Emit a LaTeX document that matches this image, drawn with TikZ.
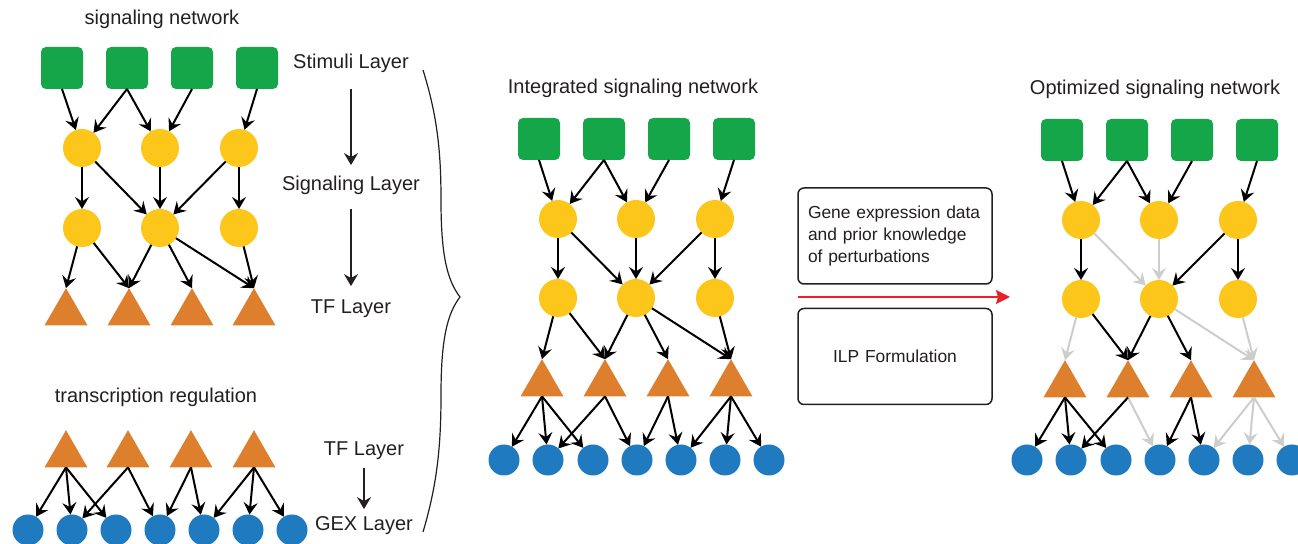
\documentclass[tikz,border=0pt]{standalone}
\usepackage{fontspec}
\setmainfont{Liberation Sans}
\usetikzlibrary{arrows.meta,shapes.geometric}
\definecolor{stimgreen}{RGB}{22,166,74}
\definecolor{siggold}{RGB}{253,198,26}
\definecolor{tforange}{RGB}{221,127,44}
\definecolor{gexblue}{RGB}{31,122,192}
\definecolor{offgray}{RGB}{205,205,205}
\definecolor{inkgray}{RGB}{35,31,32}
\definecolor{fitred}{RGB}{232,32,40}
\begin{document}
\begin{tikzpicture}[x=0.5pt, y=-0.5pt,
    stim/.style={rectangle, rounded corners=2.5pt, fill=stimgreen, minimum size=21pt, inner sep=0pt, outer sep=0pt},
    sig/.style={circle, fill=siggold, minimum size=19pt, inner sep=0pt, outer sep=0pt},
    tf/.style={regular polygon, regular polygon sides=3, fill=tforange, minimum size=24.8pt, inner sep=0pt, outer sep=0pt},
    gex/.style={circle, fill=gexblue, minimum size=15.5pt, inner sep=0pt, outer sep=0pt},
    edge/.style={-{Stealth[length=6pt, width=7pt, inset=2.2pt]}, line width=1pt, black},
    offedge/.style={edge, offgray},
    lbl/.style={font=\fontsize{10}{12}\selectfont, text=inkgray, inner sep=0pt, text height=7.5pt, text depth=2pt},
    layerarrow/.style={-{Stealth[length=6pt, width=7pt, inset=2pt]}, line width=0.6pt, inkgray},
    boxnote/.style={draw=inkgray, line width=0.75pt, rounded corners=3pt, minimum width=97pt, minimum height=48pt, inner xsep=5pt, text width=87pt, font=\fontsize{8.7}{10.8}\selectfont, text=inkgray},
    fitarrow/.style={-{Stealth[length=7pt, width=7pt, inset=1pt]}, line width=0.7pt, fitred}]
        \useasboundingbox (0, 0) rectangle (1298, 544);

        % signaling network
        \node[lbl] (signet) at (162, 19) {signaling network};
        \node[stim] (sg1) at (62, 68) {};
        \node[stim] (sg2) at (127, 68) {};
        \node[stim] (sg3) at (192, 68) {};
        \node[stim] (sg4) at (257, 68) {};
        \node[sig] (sy1) at (82, 148) {};
        \node[sig] (sy2) at (160, 148) {};
        \node[sig] (sy3) at (239, 148) {};
        \node[sig] (sy4) at (82, 228) {};
        \node[sig] (sy5) at (160, 228) {};
        \node[sig] (sy6) at (239, 228) {};
        \node[tf] (st1) at (66, 313) {};
        \node[tf] (st2) at (129, 313) {};
        \node[tf] (st3) at (192, 313) {};
        \node[tf] (st4) at (254, 313) {};
        \draw[edge] (sg1.south) -- (sy1);
        \draw[edge] (sg2.south) -- (sy1);
        \draw[edge] (sg2.south) -- (sy2);
        \draw[edge] (sg3.south) -- (sy2);
        \draw[edge] (sg4.south) -- (sy3);
        \draw[edge] (sy1) -- (sy4);
        \draw[edge] (sy1) -- (sy5);
        \draw[edge] (sy2) -- (sy5);
        \draw[edge] (sy3) -- (sy5);
        \draw[edge] (sy3) -- (sy6);
        \draw[edge] (sy4) -- (st1.corner 1);
        \draw[edge] (sy4) -- (st2.corner 1);
        \draw[edge] (sy5) -- (st2.corner 1);
        \draw[edge] (sy5) -- (st3.corner 1);
        \draw[edge] (sy5) -- (st4.corner 1);
        \draw[edge] (sy6) -- (st4.corner 1);

        % layers
        \node[lbl] (stimlayer) at (351, 63) {Stimuli Layer};
        \node[lbl] (siglayer) at (351, 185) {Signaling Layer};
        \node[lbl] (tflayer) at (351, 308) {TF Layer};
        \node[lbl] (tflayerb) at (364, 450) {TF Layer};
        \node[lbl] (gexlayer) at (364, 525) {GEX Layer};
        \draw[layerarrow, shorten <=8pt, shorten >=5pt] (stimlayer) -- (siglayer);
        \draw[layerarrow, shorten <=7pt, shorten >=6pt] (siglayer) -- (tflayer);
        \draw[layerarrow, shorten <=4pt, shorten >=3pt] (tflayerb) -- (gexlayer);
        \draw[line width=0.6pt, inkgray] (423, 70) .. controls (437, 115) and (441, 150) .. (441, 200)
            .. controls (441, 255) and (447, 280) .. (460, 297)
            .. controls (447, 314) and (441, 340) .. (441, 395)
            .. controls (441, 447) and (437, 485) .. (423, 532);

        % transcription regulation
        \node[lbl] (treg) at (156, 397) {transcription regulation};
        \node[tf] (tt1) at (66, 455) {};
        \node[tf] (tt2) at (128, 455) {};
        \node[tf] (tt3) at (191, 455) {};
        \node[tf] (tt4) at (254, 455) {};
        \node[gex] (tb1) at (28, 530) {};
        \node[gex] (tb2) at (72, 530) {};
        \node[gex] (tb3) at (116, 530) {};
        \node[gex] (tb4) at (160, 530) {};
        \node[gex] (tb5) at (204, 530) {};
        \node[gex] (tb6) at (248, 530) {};
        \node[gex] (tb7) at (292, 530) {};
        \draw[edge] (tt1.south) -- (tb1);
        \draw[edge] (tt1.south) -- (tb2);
        \draw[edge] (tt1.south) -- (tb3);
        \draw[edge] (tt2.south) -- (tb2);
        \draw[edge] (tt2.south) -- (tb4);
        \draw[edge] (tt3.south) -- (tb4);
        \draw[edge] (tt3.south) -- (tb5);
        \draw[edge] (tt4.south) -- (tb5);
        \draw[edge] (tt4.south) -- (tb6);
        \draw[edge] (tt4.south) -- (tb7);

        % integrated signaling network
        \node[lbl] (intnet) at (633, 88) {Integrated signaling network};
        \node[stim] (ig1) at (539, 139) {};
        \node[stim] (ig2) at (604, 139) {};
        \node[stim] (ig3) at (669, 139) {};
        \node[stim] (ig4) at (734, 139) {};
        \node[sig] (iy1) at (558, 219) {};
        \node[sig] (iy2) at (636, 219) {};
        \node[sig] (iy3) at (715, 219) {};
        \node[sig] (iy4) at (558, 298) {};
        \node[sig] (iy5) at (636, 298) {};
        \node[sig] (iy6) at (715, 298) {};
        \node[tf] (it1) at (542, 384) {};
        \node[tf] (it2) at (605, 384) {};
        \node[tf] (it3) at (668, 384) {};
        \node[tf] (it4) at (731, 384) {};
        \node[gex] (ib1) at (504, 460) {};
        \node[gex] (ib2) at (548, 460) {};
        \node[gex] (ib3) at (593, 460) {};
        \node[gex] (ib4) at (637, 460) {};
        \node[gex] (ib5) at (681, 460) {};
        \node[gex] (ib6) at (725, 460) {};
        \node[gex] (ib7) at (769, 460) {};
        \draw[edge] (ig1.south) -- (iy1);
        \draw[edge] (ig2.south) -- (iy1);
        \draw[edge] (ig2.south) -- (iy2);
        \draw[edge] (ig3.south) -- (iy2);
        \draw[edge] (ig4.south) -- (iy3);
        \draw[edge] (iy1) -- (iy4);
        \draw[edge] (iy1) -- (iy5);
        \draw[edge] (iy2) -- (iy5);
        \draw[edge] (iy3) -- (iy5);
        \draw[edge] (iy3) -- (iy6);
        \draw[edge] (iy4) -- (it1.corner 1);
        \draw[edge] (iy4) -- (it2.corner 1);
        \draw[edge] (iy5) -- (it2.corner 1);
        \draw[edge] (iy5) -- (it3.corner 1);
        \draw[edge] (iy5) -- (it4.corner 1);
        \draw[edge] (iy6) -- (it4.corner 1);
        \draw[edge] (it1.south) -- (ib1);
        \draw[edge] (it1.south) -- (ib2);
        \draw[edge] (it1.south) -- (ib3);
        \draw[edge] (it2.south) -- (ib2);
        \draw[edge] (it2.south) -- (ib4);
        \draw[edge] (it3.south) -- (ib4);
        \draw[edge] (it3.south) -- (ib5);
        \draw[edge] (it4.south) -- (ib5);
        \draw[edge] (it4.south) -- (ib6);
        \draw[edge] (it4.south) -- (ib7);

        % data and ILP
        \node[boxnote, align=left] (datanote) at (895, 236) {Gene expression data\\and prior knowledge\\of perturbations};
        \node[boxnote, align=center] (ilpnote) at (895, 356.5) {ILP Formulation};
        \coordinate (fitstart) at (798, 297);
        \coordinate (fitend) at (1010, 297);
        \draw[fitarrow] (fitstart) -- (fitend);

        % optimized signaling network
        \node[lbl] (optnet) at (1155, 89) {Optimized signaling network};
        \node[stim] (og1) at (1062, 140) {};
        \node[stim] (og2) at (1127, 140) {};
        \node[stim] (og3) at (1192, 140) {};
        \node[stim] (og4) at (1257, 140) {};
        \node[sig] (oy1) at (1081, 220) {};
        \node[sig] (oy2) at (1159, 220) {};
        \node[sig] (oy3) at (1238, 220) {};
        \node[sig] (oy4) at (1081, 299) {};
        \node[sig] (oy5) at (1159, 299) {};
        \node[sig] (oy6) at (1238, 299) {};
        \node[tf] (ot1) at (1065, 385) {};
        \node[tf] (ot2) at (1128, 385) {};
        \node[tf] (ot3) at (1191, 385) {};
        \node[tf] (ot4) at (1254, 385) {};
        \node[gex] (ob1) at (1027, 460) {};
        \node[gex] (ob2) at (1071, 460) {};
        \node[gex] (ob3) at (1116, 460) {};
        \node[gex] (ob4) at (1160, 460) {};
        \node[gex] (ob5) at (1204, 460) {};
        \node[gex] (ob6) at (1248, 460) {};
        \node[gex] (ob7) at (1292, 460) {};
        \draw[offedge] (oy1) -- (oy5);
        \draw[offedge] (oy2) -- (oy5);
        \draw[offedge] (oy4) -- (ot1.corner 1);
        \draw[offedge] (oy5) -- (ot4.corner 1);
        \draw[offedge] (oy6) -- (ot4.corner 1);
        \draw[offedge] (ot2.south) -- (ob4);
        \draw[offedge] (ot4.south) -- (ob5);
        \draw[offedge] (ot4.south) -- (ob6);
        \draw[offedge] (ot4.south) -- (ob7);
        \draw[edge] (og1.south) -- (oy1);
        \draw[edge] (og2.south) -- (oy1);
        \draw[edge] (og2.south) -- (oy2);
        \draw[edge] (og3.south) -- (oy2);
        \draw[edge] (og4.south) -- (oy3);
        \draw[edge] (oy1) -- (oy4);
        \draw[edge] (oy3) -- (oy5);
        \draw[edge] (oy3) -- (oy6);
        \draw[edge] (oy4) -- (ot2.corner 1);
        \draw[edge] (oy5) -- (ot2.corner 1);
        \draw[edge] (oy5) -- (ot3.corner 1);
        \draw[edge] (ot1.south) -- (ob1);
        \draw[edge] (ot1.south) -- (ob2);
        \draw[edge] (ot1.south) -- (ob3);
        \draw[edge] (ot2.south) -- (ob2);
        \draw[edge] (ot3.south) -- (ob4);
        \draw[edge] (ot3.south) -- (ob5);
    \end{tikzpicture}
\end{document}
